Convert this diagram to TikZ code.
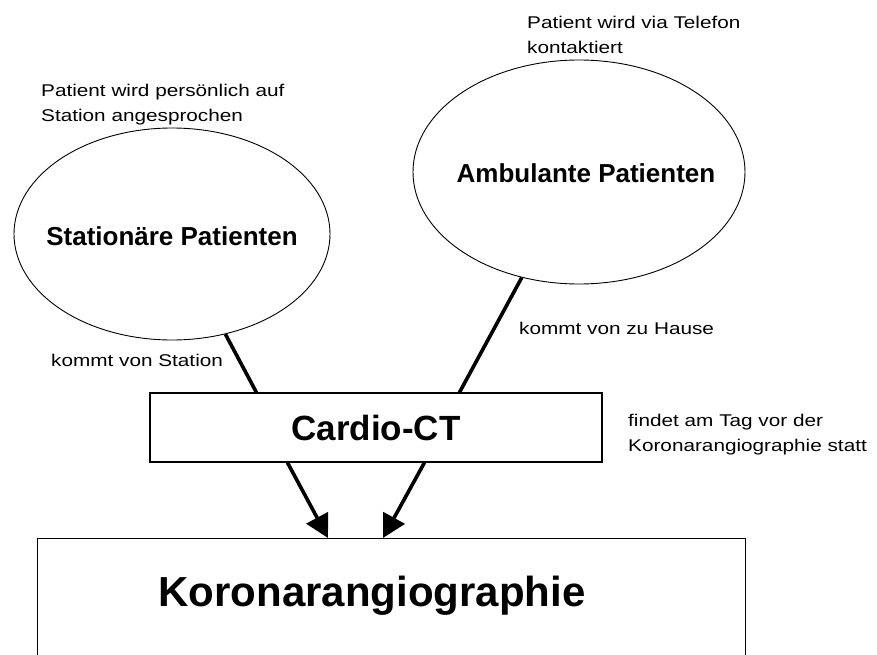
\documentclass[tikz,border=0pt]{standalone}
\usepackage{fontspec}
\setmainfont{Liberation Sans}
\newfontfamily\wideface[FakeStretch=1.22]{Liberation Sans}
\usepackage{tikz}
\usetikzlibrary{arrows.meta,positioning,shapes.geometric}
\tikzset{
  ell/.style={draw,ellipse,line width=0.9pt,inner sep=0pt},
  elltext/.style={font=\fontsize{26}{30}\selectfont\bfseries},
  box/.style={draw,rectangle,line width=1.1pt,inner sep=0pt},
  note/.style={inner sep=0pt,align=left,anchor=north west,
               font=\wideface\fontsize{17}{24.5}\selectfont},
  conn/.style={line width=3.6pt},
  arr/.style={line width=3.6pt,-{Triangle[length=23pt,width=24pt]}},
}
\begin{document}
\begin{tikzpicture}[x=1pt,y=-1pt]
\useasboundingbox (0,0) rectangle (877,655);
\clip (0,0) rectangle (877,655);
% patient groups
\node[ell,minimum width=316pt,minimum height=212pt] (stat) at (172,234) {};
\node[elltext] (stattext) at (172,236) {Stationäre Patienten};
\node[ell,minimum width=332pt,minimum height=224pt] (amb) at (579,172) {};
\node[elltext] (ambtext) at (586,173) {Ambulante Patienten};
\node[note] (statnote) at (41,84) {Patient wird persönlich auf\\Station angesprochen};
\node[note] (ambnote) at (527,16) {Patient wird via Telefon\\kontaktiert};
% Cardio-CT
\node[box,minimum width=452pt,minimum height=69pt,
      font=\fontsize{35}{38}\selectfont\bfseries] (ct) at (376,427.5) {Cardio-CT};
\node[note] (ctnote) at (628,414) {findet am Tag vor der\\Koronarangiographie statt};
% Koronarangiographie
\node[box,anchor=north west,minimum width=708pt,minimum height=160pt] (kor) at (37,538) {};
\node[font=\fontsize{42}{46}\selectfont\bfseries] (kortext) at (372,596) {Koronarangiographie};
% connectors
\draw[conn] (stat) -- ([xshift=107pt]ct.north west);
\draw[conn] (amb) -- ([xshift=310pt]ct.north west);
\node[note] (statway) at (51,354) {kommt von Station};
\node[note] (ambway) at (519,322) {kommt von zu Hause};
\draw[arr] ([xshift=138pt]ct.south west) -- ([xshift=291pt]kor.north west);
\draw[arr] ([xshift=275pt]ct.south west) -- ([xshift=346pt]kor.north west);
\end{tikzpicture}
\end{document}
